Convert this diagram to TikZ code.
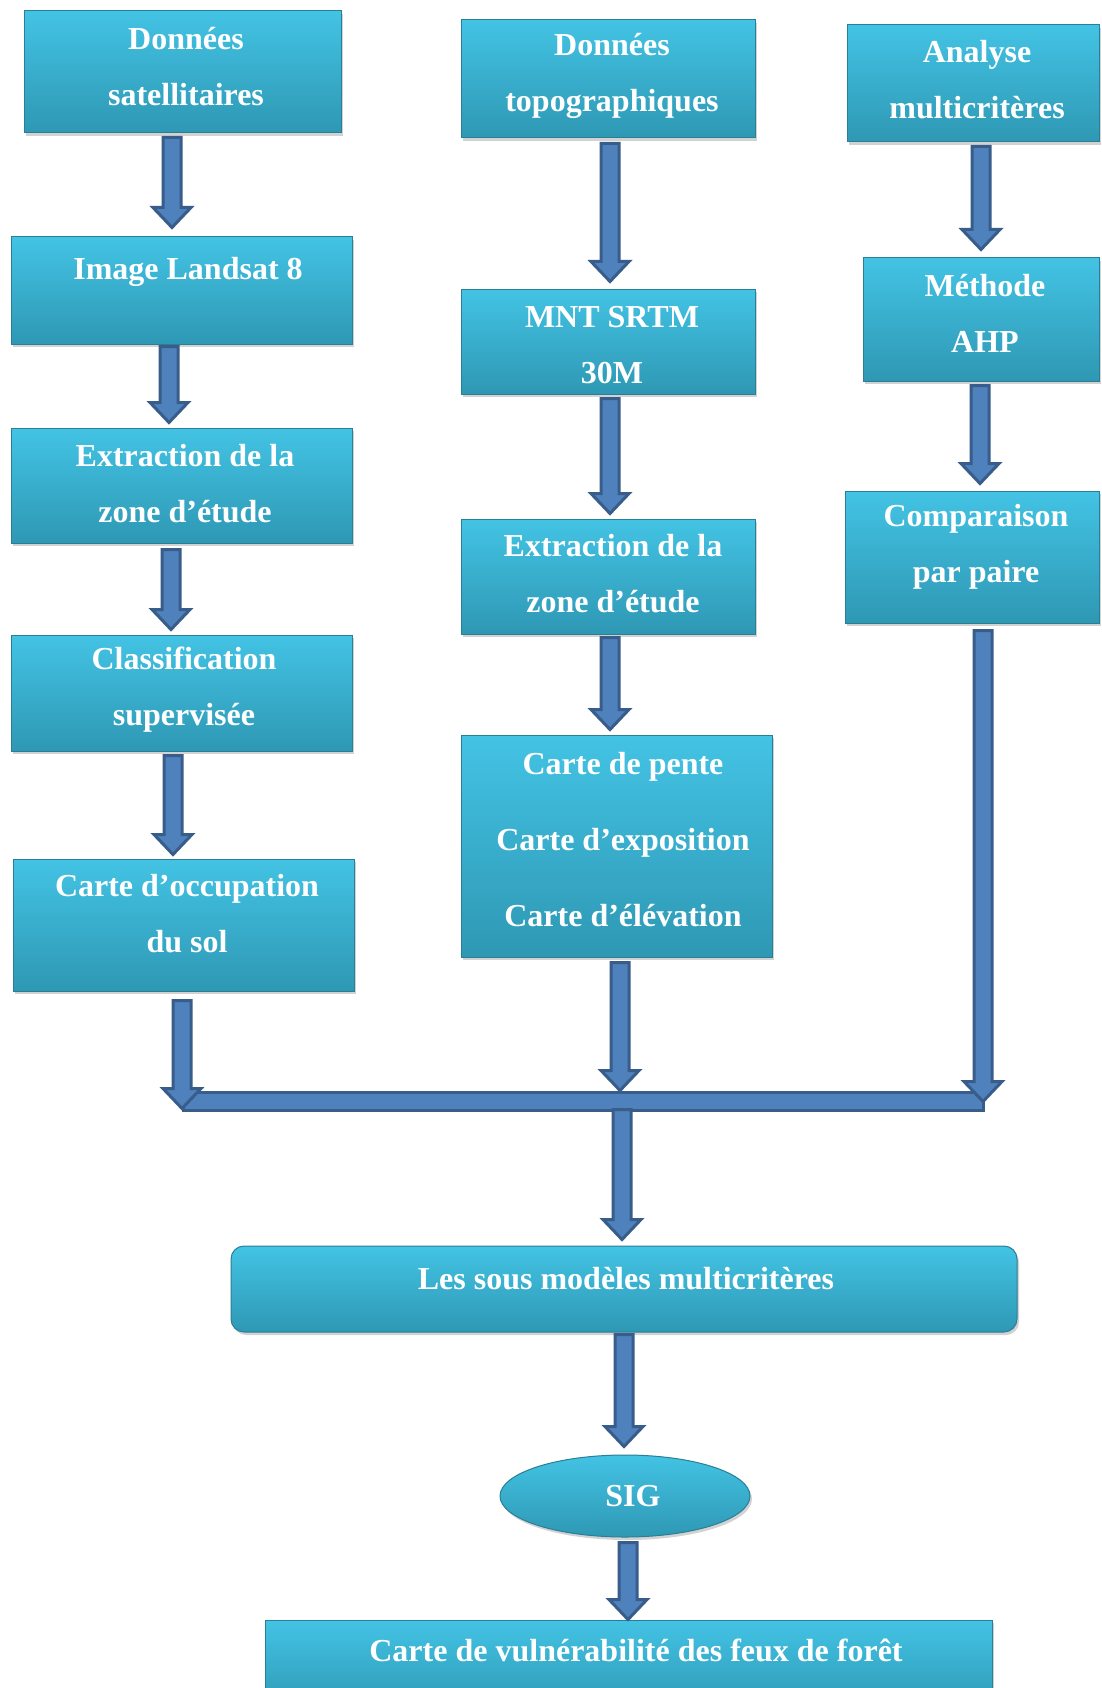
\documentclass[tikz,border=0pt]{standalone}
\usepackage{fontspec}
\setmainfont{Liberation Serif}
\usetikzlibrary{calc,shadows,shapes.geometric}
\definecolor{cyT}{HTML}{43C3E4}
\definecolor{cyM}{HTML}{3AB5D8}
\definecolor{cyB}{HTML}{2E98B4}
\definecolor{cyD}{HTML}{2A7F96}
\definecolor{arF}{HTML}{4F81BD}
\definecolor{arD}{HTML}{385D8A}
\tikzset{
  box/.style={rectangle, inner sep=0pt, top color=cyT, middle color=cyM, bottom color=cyB, draw=cyD, line width=1pt,
    drop shadow={shadow xshift=2pt, shadow yshift=-3pt, opacity=0.35}},
  txt/.style={text=white, font=\bfseries\fontsize{32}{56}\selectfont, align=center, inner sep=0pt},
  arr/.style={fill=arF, draw=arD, line width=3pt, line join=miter},
}
% block arrow: #1 from node, #2 to node, #3 x (pt), #4 gap below source, #5 gap above target
\newcommand\barrow[5]{%
  \filldraw[arr] let \p1=(#1.south), \p2=(#2.north) in
   (#3pt-9pt,\y1-#4pt) -- (#3pt+9pt,\y1-#4pt) -- (#3pt+9pt,\y2+#5pt+20pt) -- (#3pt+19pt,\y2+#5pt+20pt)
   -- (#3pt,\y2+#5pt) -- (#3pt-19pt,\y2+#5pt+20pt) -- (#3pt-9pt,\y2+#5pt+20pt) -- cycle;}
\begin{document}
\begin{tikzpicture}[x=1pt,y=-1pt]
\useasboundingbox (0,0) rectangle (1102,1688);
\clip (0,0) rectangle (1102,1688);
\fill[white] (0,0) rectangle (1102,1688);

% column 1
\node[box, minimum width=317pt, minimum height=122pt] (d1) at (182.5,72) {};
\node[box, minimum width=341pt, minimum height=107pt] (d2) at (181.5,290.5) {};
\node[box, minimum width=341pt, minimum height=115pt] (d3) at (181.5,485.5) {};
\node[box, minimum width=341pt, minimum height=116pt] (d4) at (181.5,693) {};
\node[box, minimum width=341pt, minimum height=132pt] (d5) at (183.5,925) {};
% column 2
\node[box, minimum width=294pt, minimum height=118pt] (t1) at (608,79) {};
\node[box, minimum width=294pt, minimum height=105pt] (t2) at (608,341.5) {};
\node[box, minimum width=294pt, minimum height=115pt] (t3) at (608,576.5) {};
\node[box, minimum width=311pt, minimum height=222pt] (t4) at (616.5,846) {};
% column 3
\node[box, minimum width=252pt, minimum height=117pt] (m1) at (973,83.5) {};
\node[box, minimum width=236pt, minimum height=123pt] (m2) at (981,319.5) {};
\node[box, minimum width=254pt, minimum height=132pt] (m3) at (972,557) {};
% bottom
\node[box, rounded corners=13pt, minimum width=786pt, minimum height=86pt] (sm) at (624,1289) {};
\node[box, ellipse, minimum width=250pt, minimum height=82pt] (sig) at (625,1496) {};
\node[box, minimum width=727pt, minimum height=92pt] (cv) at (628.5,1666) {};

% texts
\node[txt] (xd1) at (186,67) {Données\\satellitaires};
\node[txt] (xd2) at (188,272) {Image Landsat 8};
\node[txt] (xd3) at (185,484) {Extraction de la\\zone d’étude};
\node[txt] (xd4) at (184,690) {Classification\\supervisée};
\node[txt] (xd5) at (187,914) {Carte d’occupation\\du sol};
\node[txt] (xt1) at (612,76) {Données\\topographiques};
\node[txt] (xt2) at (612,345) {MNT SRTM\\30M};
\node[txt] (xt3) at (613,574) {Extraction de la\\zone d’étude};
\node[txt, font=\bfseries\fontsize{32}{76}\selectfont] (xt4) at (623,840) {Carte de pente\\Carte d’exposition\\Carte d’élévation};
\node[txt] (xm1) at (977,80) {Analyse\\multicritères};
\node[txt] (xm2) at (985,313) {Méthode\\AHP};
\node[txt] (xm3) at (976,547) {Comparaison\\par paire};
\node[txt] (xsm) at (626,1279) {Les sous modèles multicritères};
\node[txt] (xsig) at (633,1496) {SIG};
\node[txt] (xcv) at (636,1650) {Carte de vulnérabilité des feux de forêt};

% merge bar
\node[arr, rectangle, inner sep=0pt, minimum width=800pt, minimum height=18pt] (bar) at (583,1101) {};

% arrows
\barrow{d1}{d2}{172}{4}{9}
\barrow{d2}{d3}{169}{2}{5}
\barrow{d3}{d4}{171}{6}{5}
\barrow{d4}{d5}{173}{4}{4}
\barrow{d5}{bar}{182}{9}{-18}
\barrow{t1}{t2}{610}{5}{7}
\barrow{t2}{t3}{610}{4}{5}
\barrow{t3}{t4}{610}{3}{5}
\barrow{t4}{bar}{620}{5}{0}
\barrow{m1}{m2}{981}{4}{8}
\barrow{m2}{m3}{980}{4}{7}
\barrow{m3}{bar}{983}{7}{-11}
\barrow{bar}{sm}{622}{-2}{6}
\barrow{sm}{sig}{624}{2}{8}
\barrow{sig}{cv}{628}{5}{0}
\end{tikzpicture}
\end{document}
